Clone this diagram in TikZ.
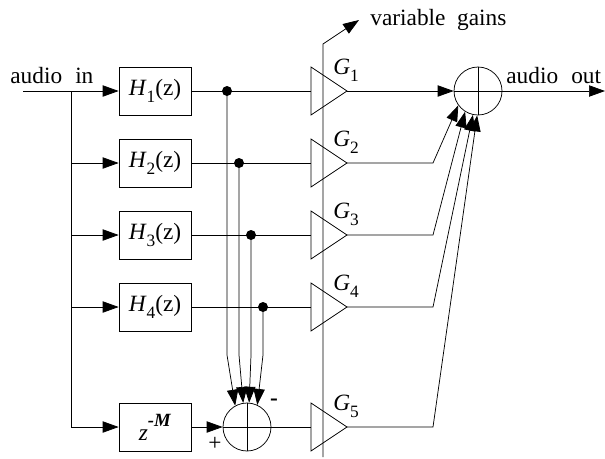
\documentclass[tikz,border=0pt]{standalone}
\usepackage{fontspec}
\setmainfont{Liberation Serif}
\usetikzlibrary{arrows.meta,calc,positioning}
\newcommand{\lowsub}[1]{\raisebox{-0.32em}{\fontsize{13}{13}\selectfont #1}}
\begin{document}
\begin{tikzpicture}[
x=0.75pt,y=-0.75pt,
line width=0.55pt,
>={Triangle[length=12pt,width=8.5pt]},
every node/.style={font=\fontsize{17.5}{20}\selectfont},
filter/.style={draw,rectangle,minimum width=54pt,minimum height=36pt,inner sep=0pt},
summer/.style={draw,circle,minimum size=36pt,inner sep=0pt},
dot/.style={circle,fill=black,minimum size=7.5pt,inner sep=0pt},
label/.style={inner sep=0pt,anchor=base west}
]
\useasboundingbox (0,0) rectangle (605,458);

% filters
\node[filter] (h1) at (155,91) {\textit{H}\lowsub{1}(z)};
\node[filter] (h2) at (155,163) {\textit{H}\lowsub{2}(z)};
\node[filter] (h3) at (155,235) {\textit{H}\lowsub{3}(z)};
\node[filter] (h4) at (155,307) {\textit{H}\lowsub{4}(z)};
\node[filter] (delay) at (155,427) {\raisebox{-4.5pt}{\textit{z}}\raisebox{6pt}{\fontsize{14}{14}\selectfont\textbf{\textit{-M}}}};

% summers
\node[summer] (sumd) at (247,427) {};
\node[summer] (sumo) at (478,91) {};
\draw (sumd.north) -- (sumd.south) (sumd.west) -- (sumd.east);
\draw (sumo.north) -- (sumo.south) (sumo.west) -- (sumo.east);

% gains
\foreach \n/\y in {1/91,2/163,3/235,4/307,5/427}{
  \coordinate (g\n) at (311,\y);
  \coordinate (a\n) at (347,\y);
  \coordinate (b\n) at (433,\y);
  \coordinate (s\n) at (71,\y);
  \draw (311,\y-24) -- (a\n) -- (311,\y+24) -- cycle;
  \node[label] (gl\n) at (333,\y-16.5) {\textit{G}\lowsub{\n}};
}
\coordinate (ctltop) at (323,44);
\coordinate (ctlbot) at (323,457);
\coordinate (ctlend) at (359,20);
\draw[->] (ctlbot) -- (ctltop) -- (ctlend);
\node[label] (gains) at (370,25) {variable\ \ gains};

% input
\coordinate (in) at (23,91);
\node[label] (inlabel) at (10,83) {audio\hspace{0.56em}in};
\draw[->] (in) -- (h1);
\draw (s1) -- (s5);
\draw[->] (s2) -- (h2);
\draw[->] (s3) -- (h3);
\draw[->] (s4) -- (h4);
\draw[->] (s5) -- (delay);

% filter outputs
\foreach \n in {1,2,3,4}{
  \draw (h\n) -- (g\n);
}
\draw[->] (delay) -- (sumd);
\draw (sumd) -- (g5);
\foreach \n/\x/\y/\ang in {1/227/91/119,2/239/163/99,3/251/235/85,4/263/307/65}{
  \node[dot] (d\n) at (\x,\y) {};
  \coordinate (k\n) at (\x,355);
  \draw[->] (d\n.center) -- (k\n) -- (sumd.\ang);
}
\node[inner sep=0pt] (plus) at (215,444) {+};
\node[inner sep=0pt,font=\fontsize{17.5}{20}\selectfont\bfseries] (minus) at (274,402) {-};

% gains to output
\draw[->] (a1) -- (sumo);
\draw[->] (a2) -- (b2) -- (sumo.216);
\draw[->] (a3) -- (b3) -- (sumo.238);
\draw[->] (a4) -- (b4) -- (sumo.258);
\draw[->] (a5) -- (b5) -- (sumo.268);
\coordinate (out) at (605,91);
\draw[->] (sumo) -- (out);
\node[label] (outlabel) at (506,83) {audio\hspace{0.56em}out};
\end{tikzpicture}
\end{document}
